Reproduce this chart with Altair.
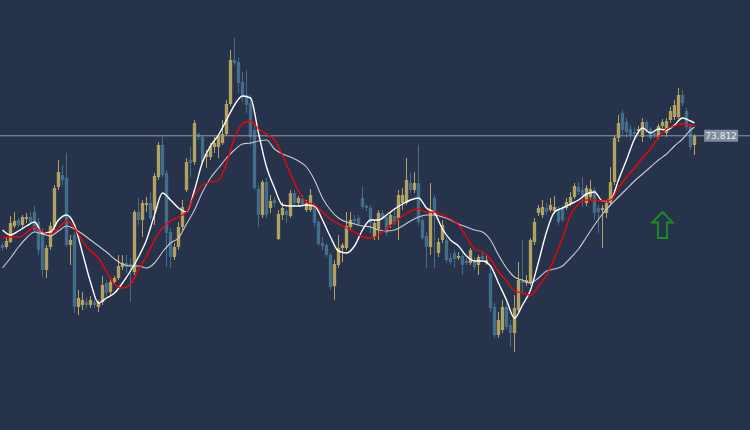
import altair as alt
import numpy as np
import pandas as pd

# ---------------- data (prices) ----------------
open_ = [72.72, 72.70, 72.75, 72.91, 72.97, 72.92, 72.98, 73.00, 73.05, 72.95,
         72.84, 72.47, 72.70, 72.90, 73.30, 73.42, 73.39, 72.72, 72.82, 72.10,
         72.12, 72.15, 72.12, 72.15, 72.10, 72.15, 72.34, 72.25, 72.35, 72.39,
         72.50, 72.54, 72.53, 72.45, 73.05, 72.97, 73.12, 73.14, 73.07, 73.40,
         73.72, 73.44, 72.85, 72.60, 72.70, 72.90, 73.27, 73.57, 73.55, 73.83,
         73.80, 73.60, 73.60, 73.70, 73.70, 73.74, 73.83, 74.13, 74.57, 74.55,
         74.35, 74.22, 74.14, 73.87, 73.28, 73.02, 73.35, 73.09, 73.17, 72.78,
         73.02, 73.06, 73.01, 73.24, 73.14, 73.18, 73.07, 73.07, 73.12, 72.95,
         72.74, 72.72, 72.62, 72.31, 72.52, 72.69, 72.69, 72.90, 72.98, 72.99,
         73.19, 73.11, 73.09, 72.80, 72.88, 73.04, 73.00, 72.92, 73.01, 72.99,
         73.14, 73.14, 73.34, 73.27, 73.34, 72.97, 72.81, 72.70, 73.19, 72.64,
         72.77, 72.77, 72.59, 72.64, 72.59, 72.61, 72.56, 72.54, 72.57, 72.52,
         72.61, 72.54, 72.44, 72.10, 71.82, 71.87, 72.10, 71.92, 71.84, 72.07,
         72.37, 72.34, 72.34, 72.75, 73.04, 73.02, 73.09, 73.07, 73.06, 73.08,
         73.09, 73.09, 73.14, 73.20, 73.30, 73.27, 73.14, 73.20, 73.27, 73.09,
         73.07, 73.04, 73.14, 73.35, 73.79, 74.04, 73.95, 73.88, 73.85, 73.86,
         73.80, 73.95, 73.88, 73.84, 73.80, 73.91, 73.84, 73.97, 74.00, 74.00,
         74.22, 74.06, 73.90, 73.72]
high_ = [72.74, 72.80, 73.01, 73.05, 72.99, 73.02, 73.04, 73.05, 73.11, 72.99,
         72.89, 72.72, 72.95, 73.32, 73.57, 73.52, 73.64, 72.82, 72.85, 72.27,
         72.25, 72.19, 72.21, 72.18, 72.17, 72.41, 72.37, 72.39, 72.41, 72.62,
         72.62, 72.62, 72.59, 73.07, 73.19, 73.17, 73.20, 73.25, 73.44, 73.75,
         73.80, 73.47, 72.89, 72.74, 72.95, 73.17, 73.59, 73.70, 73.97, 73.85,
         73.82, 73.67, 73.74, 73.80, 73.83, 73.97, 74.17, 74.67, 74.79, 74.59,
         74.45, 74.47, 74.22, 73.92, 73.32, 73.37, 73.39, 73.22, 73.20, 73.07,
         73.15, 73.08, 73.27, 73.27, 73.21, 73.22, 73.17, 73.28, 73.14, 72.97,
         72.80, 72.74, 72.64, 72.57, 72.82, 72.74, 73.05, 73.05, 73.02, 73.02,
         73.30, 73.13, 73.12, 72.97, 73.07, 73.07, 73.03, 73.05, 73.09, 73.27,
         73.29, 73.59, 73.44, 73.45, 73.72, 73.02, 72.85, 73.34, 73.22, 72.79,
         72.97, 72.80, 72.64, 72.67, 72.65, 72.64, 72.59, 72.69, 72.60, 72.62,
         72.65, 72.61, 72.49, 72.14, 72.05, 72.17, 72.14, 71.97, 72.22, 72.55,
         72.77, 72.42, 72.79, 72.99, 73.12, 73.17, 73.14, 73.19, 73.21, 73.11,
         73.12, 73.19, 73.25, 73.34, 73.35, 73.40, 73.32, 73.37, 73.30, 73.12,
         73.12, 73.17, 73.50, 73.82, 74.02, 74.07, 73.99, 73.92, 73.90, 73.91,
         73.99, 73.97, 73.90, 73.87, 73.93, 73.98, 73.99, 74.10, 74.17, 74.29,
         74.27, 74.09, 73.93, 73.83]
low_ = [72.66, 72.68, 72.74, 72.89, 72.90, 72.89, 72.94, 72.93, 72.85, 72.62,
        72.40, 72.39, 72.67, 72.87, 73.27, 73.32, 72.70, 72.52, 72.04, 72.02,
        72.07, 72.09, 72.09, 72.09, 72.05, 72.12, 72.21, 72.22, 72.33, 72.37,
        72.47, 72.44, 72.15, 72.42, 72.92, 72.80, 73.05, 72.97, 72.92, 73.37,
        73.39, 72.50, 72.49, 72.57, 72.67, 72.87, 73.25, 73.40, 73.52, 73.77,
        73.52, 73.49, 73.57, 73.64, 73.59, 73.72, 73.81, 74.11, 74.52, 74.24,
        74.15, 74.04, 73.72, 73.27, 72.90, 72.99, 72.99, 73.04, 73.10, 72.77,
        72.97, 72.94, 72.99, 73.11, 73.12, 73.10, 73.05, 73.05, 72.90, 72.71,
        72.67, 72.60, 72.27, 72.17, 72.49, 72.55, 72.67, 72.87, 72.93, 72.91,
        73.08, 73.06, 72.84, 72.77, 72.77, 72.98, 72.81, 72.89, 72.92, 72.77,
        73.07, 73.12, 73.24, 73.24, 72.92, 72.77, 72.49, 72.62, 72.49, 72.60,
        72.74, 72.54, 72.52, 72.49, 72.57, 72.42, 72.52, 72.52, 72.47, 72.42,
        72.55, 72.52, 72.05, 71.79, 71.79, 71.84, 71.87, 71.70, 71.65, 72.05,
        72.24, 72.31, 72.32, 72.72, 73.01, 72.99, 73.02, 73.05, 73.03, 72.92,
        72.95, 73.07, 73.11, 73.18, 73.22, 73.10, 73.11, 73.17, 72.97, 72.84,
        72.69, 72.99, 73.11, 73.32, 73.75, 73.82, 73.79, 73.77, 73.79, 73.83,
        73.75, 73.84, 73.77, 73.79, 73.78, 73.89, 73.80, 73.94, 73.97, 73.98,
        74.11, 73.87, 73.67, 73.62]
close_ = [72.69, 72.76, 72.94, 72.96, 72.92, 73.00, 73.00, 72.95, 72.87, 72.67,
          72.47, 72.69, 72.91, 73.29, 73.45, 73.37, 72.72, 72.77, 72.10, 72.19,
          72.17, 72.12, 72.17, 72.12, 72.14, 72.32, 72.24, 72.35, 72.39, 72.51,
          72.54, 72.50, 72.50, 73.05, 72.97, 73.14, 73.14, 72.99, 73.41, 73.72,
          73.42, 72.84, 72.60, 72.70, 72.90, 73.10, 73.55, 73.54, 73.94, 73.80,
          73.55, 73.63, 73.71, 73.74, 73.81, 73.83, 74.13, 74.57, 74.54, 74.34,
          74.20, 74.12, 73.80, 73.29, 73.02, 73.35, 73.02, 73.16, 73.14, 73.03,
          73.09, 73.02, 73.24, 73.14, 73.19, 73.13, 73.14, 73.22, 72.94, 72.73,
          72.71, 72.62, 72.30, 72.53, 72.69, 72.72, 72.91, 72.97, 72.96, 72.93,
          73.10, 73.09, 72.94, 72.94, 73.04, 73.00, 72.84, 73.02, 72.94, 73.22,
          73.22, 73.37, 73.27, 73.34, 72.95, 72.79, 72.70, 73.07, 73.02, 72.75,
          72.92, 72.57, 72.55, 72.58, 72.61, 72.52, 72.54, 72.67, 72.50, 72.60,
          72.58, 72.57, 72.09, 71.82, 71.97, 72.10, 71.90, 71.84, 72.09, 72.37,
          72.34, 72.37, 72.77, 72.95, 73.09, 73.10, 73.05, 73.12, 73.10, 72.95,
          72.97, 73.15, 73.20, 73.31, 73.25, 73.22, 73.29, 73.28, 73.04, 73.05,
          73.09, 73.14, 73.35, 73.79, 73.94, 73.87, 73.85, 73.82, 73.83, 73.88,
          73.95, 73.87, 73.79, 73.82, 73.91, 73.95, 73.96, 74.06, 74.12, 74.22,
          74.14, 73.90, 73.70, 73.81]

# moving-average lines, read every second bar (plus the last bar)
ma_idx = list(range(0, 173, 2)) + [173]
ma_fast = [72.87, 72.82, 72.86, 72.91, 72.95, 72.84, 72.85, 72.97, 73.02, 72.92,
           72.64, 72.35, 72.14, 72.19, 72.24, 72.34, 72.46, 72.60, 72.77, 73.02,
           73.24, 73.17, 73.09, 73.05, 73.27, 73.55, 73.71, 73.82, 73.97, 74.12,
           74.21, 74.19, 73.84, 73.50, 73.29, 73.12, 73.11, 73.11, 73.12, 73.11,
           72.97, 72.80, 72.66, 72.64, 72.71, 72.87, 72.97, 72.97, 73.02, 73.08,
           73.13, 73.17, 73.19, 73.09, 73.04, 72.88, 72.77, 72.71, 72.61, 72.56,
           72.56, 72.51, 72.34, 72.17, 71.99, 72.12, 72.27, 72.55, 72.85, 73.05,
           73.09, 73.13, 73.17, 73.23, 73.25, 73.16, 73.17, 73.37, 73.57, 73.78,
           73.89, 73.84, 73.88, 73.87, 73.92, 73.99, 73.96, 73.94]
ma_mid = [72.79, 72.80, 72.80, 72.84, 72.90, 72.85, 72.83, 72.89, 72.96, 72.89,
          72.76, 72.66, 72.59, 72.45, 72.33, 72.29, 72.33, 72.47, 72.61, 72.77,
          72.89, 72.96, 73.00, 73.05, 73.22, 73.32, 73.35, 73.37, 73.54, 73.79,
          73.93, 73.96, 73.88, 73.83, 73.77, 73.62, 73.43, 73.26, 73.15, 73.12,
          73.05, 72.98, 72.93, 72.89, 72.85, 72.80, 72.79, 72.82, 72.88, 72.95,
          73.01, 73.06, 73.08, 73.05, 73.05, 73.02, 72.98, 72.92, 72.80, 72.68,
          72.65, 72.58, 72.45, 72.36, 72.26, 72.24, 72.22, 72.31, 72.42, 72.59,
          72.79, 73.02, 73.13, 73.17, 73.17, 73.16, 73.17, 73.29, 73.40, 73.49,
          73.59, 73.68, 73.80, 73.88, 73.91, 73.93, 73.92, 73.92]
ma_slow = [72.49, 72.59, 72.70, 72.79, 72.85, 72.83, 72.81, 72.86, 72.91, 72.88,
           72.83, 72.77, 72.71, 72.65, 72.58, 72.53, 72.51, 72.51, 72.49, 72.54,
           72.65, 72.74, 72.79, 72.93, 73.07, 73.25, 73.39, 73.49, 73.59, 73.67,
           73.73, 73.74, 73.76, 73.77, 73.68, 73.63, 73.60, 73.56, 73.50, 73.37,
           73.19, 73.07, 72.99, 72.95, 72.93, 72.91, 72.90, 72.87, 72.86, 72.87,
           72.91, 72.96, 73.00, 73.02, 73.02, 73.00, 72.97, 72.93, 72.90, 72.87,
           72.85, 72.77, 72.62, 72.49, 72.40, 72.37, 72.34, 72.39, 72.46, 72.48,
           72.51, 72.59, 72.68, 72.80, 72.92, 73.03, 73.12, 73.20, 73.28, 73.36,
           73.43, 73.50, 73.57, 73.63, 73.71, 73.78, 73.87, 73.90]

last_price = 73.812
last_label = "73.812"
arrow_bar, arrow_price = 165, 72.92

# ---------------- styling ----------------
BG = "#27324b"
GOLD = "#b1a262"
BLUE = "#436d8a"

df = pd.DataFrame({"i": range(len(close_)), "open": open_, "high": high_,
                   "low": low_, "close": close_})
df["dir"] = np.where(df["close"] >= df["open"], "up", "down")
df["x0"] = df["i"] - 0.42
df["x1"] = df["i"] + 0.42

ma = pd.DataFrame({"i": ma_idx, "fast": ma_fast, "mid": ma_mid, "slow": ma_slow})

xs = alt.Scale(domain=[-0.625, 186.875], nice=False, zero=False)
ys = alt.Scale(domain=[70.87, 75.17], nice=False, zero=False)
X = alt.X("i:Q", scale=xs, axis=None)
col = alt.Color("dir:N", scale=alt.Scale(domain=["up", "down"], range=[GOLD, BLUE]),
                legend=None)

wicks = alt.Chart(df).mark_rule(strokeWidth=1).encode(
    x=X, y=alt.Y("low:Q", scale=ys, axis=None), y2="high:Q", color=col)
bodies = alt.Chart(df).mark_rect().encode(
    x=alt.X("x0:Q", scale=xs, axis=None), x2="x1:Q",
    y=alt.Y("open:Q", scale=ys, axis=None), y2="close:Q", color=col)

hline = alt.Chart(pd.DataFrame({"p": [last_price]})).mark_rule(
    color="#8e9aab", strokeWidth=1).encode(y=alt.Y("p:Q", scale=ys, axis=None))

def ma_line(field, color, width):
    return alt.Chart(ma).mark_line(color=color, strokeWidth=width,
                                   interpolate="monotone").encode(
        x=X, y=alt.Y(f"{field}:Q", scale=ys, axis=None))

slow = ma_line("slow", "#c9cbd0", 1.1)
fast = ma_line("fast", "#ffffff", 1.4)
mid = ma_line("mid", "#ff0000", 1.3)

lab = pd.DataFrame({"x0": [175.4], "x1": [183.9], "xc": [179.65],
                    "p": [last_price], "p0": [last_price - 0.06],
                    "p1": [last_price + 0.06], "t": [last_label]})
label_box = alt.Chart(lab).mark_rect(color="#7f8c9d").encode(
    x=alt.X("x0:Q", scale=xs, axis=None), x2="x1:Q",
    y=alt.Y("p0:Q", scale=ys, axis=None), y2="p1:Q")
label_txt = alt.Chart(lab).mark_text(color="#e9edf2", fontSize=9,
                                     font="DejaVu Sans", align="center",
                                     baseline="middle").encode(
    x=alt.X("xc:Q", scale=xs, axis=None), y=alt.Y("p:Q", scale=ys, axis=None),
    text="t:N")

arrow_path = "M0,-1 L0.77,-0.2 L0.35,-0.2 L0.35,1 L-0.35,1 L-0.35,-0.2 L-0.77,-0.2 Z"
arrow = alt.Chart(pd.DataFrame({"i": [arrow_bar], "p": [arrow_price]})).mark_point(
    shape=arrow_path, filled=False, stroke="#1c8c1c", strokeWidth=2,
    size=680, opacity=1).encode(x=X, y=alt.Y("p:Q", scale=ys, axis=None))

chart = alt.layer(wicks, bodies, hline, slow, fast, mid, label_box, label_txt,
                  arrow).properties(
    width=750, height=430, autosize=alt.AutoSizeParams(type="none"),
    padding=0, background=BG
).configure_view(strokeWidth=0)

chart.save("out.html", embed_options={"renderer": "svg", "actions": False})
